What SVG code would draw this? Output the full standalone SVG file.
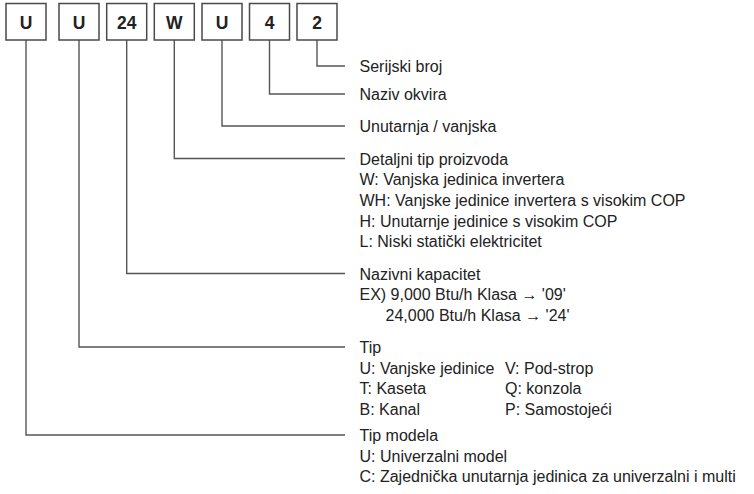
<svg xmlns="http://www.w3.org/2000/svg" width="754" height="494" viewBox="0 0 754 494">
<style>
.box{fill:#fff;stroke:#4a4a4a;stroke-width:1.5}
.code{font-family:"Liberation Sans",Arial,sans-serif;font-weight:bold;font-size:17.5px;fill:#222;text-anchor:middle}
.lbl{font-family:"Liberation Sans",Arial,sans-serif;font-size:16px;fill:#222}
.conn{fill:none;stroke:#555;stroke-width:1.4}
</style>
<rect width="754" height="494" fill="#fff"/>
<g id="connectors">
<polyline class="conn" points="317,40 317,66 345,66"/>
<polyline class="conn" points="269.5,40 269.5,94 345,94"/>
<polyline class="conn" points="222,40 222,126 345,126"/>
<polyline class="conn" points="174.3,40 174.3,158.5 345,158.5"/>
<polyline class="conn" points="126.7,40 126.7,273.5 345,273.5"/>
<polyline class="conn" points="79,40 79,347 345,347"/>
<polyline class="conn" points="26,40 26,435 345,435"/>
</g>
<g id="n1"><rect class="box" x="6" y="3.5" width="40" height="36.5"/><text class="code" x="26" y="29">U</text></g>
<g id="n2"><rect class="box" x="59" y="3.5" width="40" height="36.5"/><text class="code" x="79" y="29">U</text></g>
<g id="n3"><rect class="box" x="106.7" y="3.5" width="40" height="36.5"/><text class="code" x="126.7" y="29">24</text></g>
<g id="n4"><rect class="box" x="154.3" y="3.5" width="40" height="36.5"/><text class="code" x="174.3" y="29">W</text></g>
<g id="n5"><rect class="box" x="202" y="3.5" width="40" height="36.5"/><text class="code" x="222" y="29">U</text></g>
<g id="n6"><rect class="box" x="249.5" y="3.5" width="40" height="36.5"/><text class="code" x="269.5" y="29">4</text></g>
<g id="n7"><rect class="box" x="297" y="3.5" width="40" height="36.5"/><text class="code" x="317" y="29">2</text></g>
<g id="l7"><text class="lbl" x="359.5" y="71.5">Serijski broj</text></g>
<g id="l6"><text class="lbl" x="359.5" y="99.5">Naziv okvira</text></g>
<g id="l5"><text class="lbl" x="359.5" y="131.5">Unutarnja / vanjska</text></g>
<g id="l4">
<text class="lbl" x="359.5" y="164.5">Detaljni tip proizvoda</text>
<text class="lbl" x="359.5" y="185.2">W: Vanjska jedinica invertera</text>
<text class="lbl" x="359.5" y="205.9">WH: Vanjske jedinice invertera s visokim COP</text>
<text class="lbl" x="359.5" y="226.6">H: Unutarnje jedinice s visokim COP</text>
<text class="lbl" x="359.5" y="247.3">L: Niski statički elektricitet</text>
</g>
<g id="l3">
<text class="lbl" x="359.5" y="279.5">Nazivni kapacitet</text>
<text class="lbl" x="359.5" y="300.2">EX) 9,000 Btu/h Klasa → '09'</text>
<text class="lbl" x="385.5" y="320.9">24,000 Btu/h Klasa → '24'</text>
</g>
<g id="l2">
<text class="lbl" x="359.5" y="353">Tip</text>
<text class="lbl" x="359.5" y="373.7">U: Vanjske jedinice</text>
<text class="lbl" x="359.5" y="394.4">T: Kaseta</text>
<text class="lbl" x="359.5" y="415.1">B: Kanal</text>
<text class="lbl" x="505" y="373.7">V: Pod-strop</text>
<text class="lbl" x="505" y="394.4">Q: konzola</text>
<text class="lbl" x="505" y="415.1">P: Samostojeći</text>
</g>
<g id="l1">
<text class="lbl" x="359.5" y="441">Tip modela</text>
<text class="lbl" x="359.5" y="461.7">U: Univerzalni model</text>
<text class="lbl" x="359.5" y="482.4">C: Zajednička unutarnja jedinica za univerzalni i multi</text>
</g>
</svg>
